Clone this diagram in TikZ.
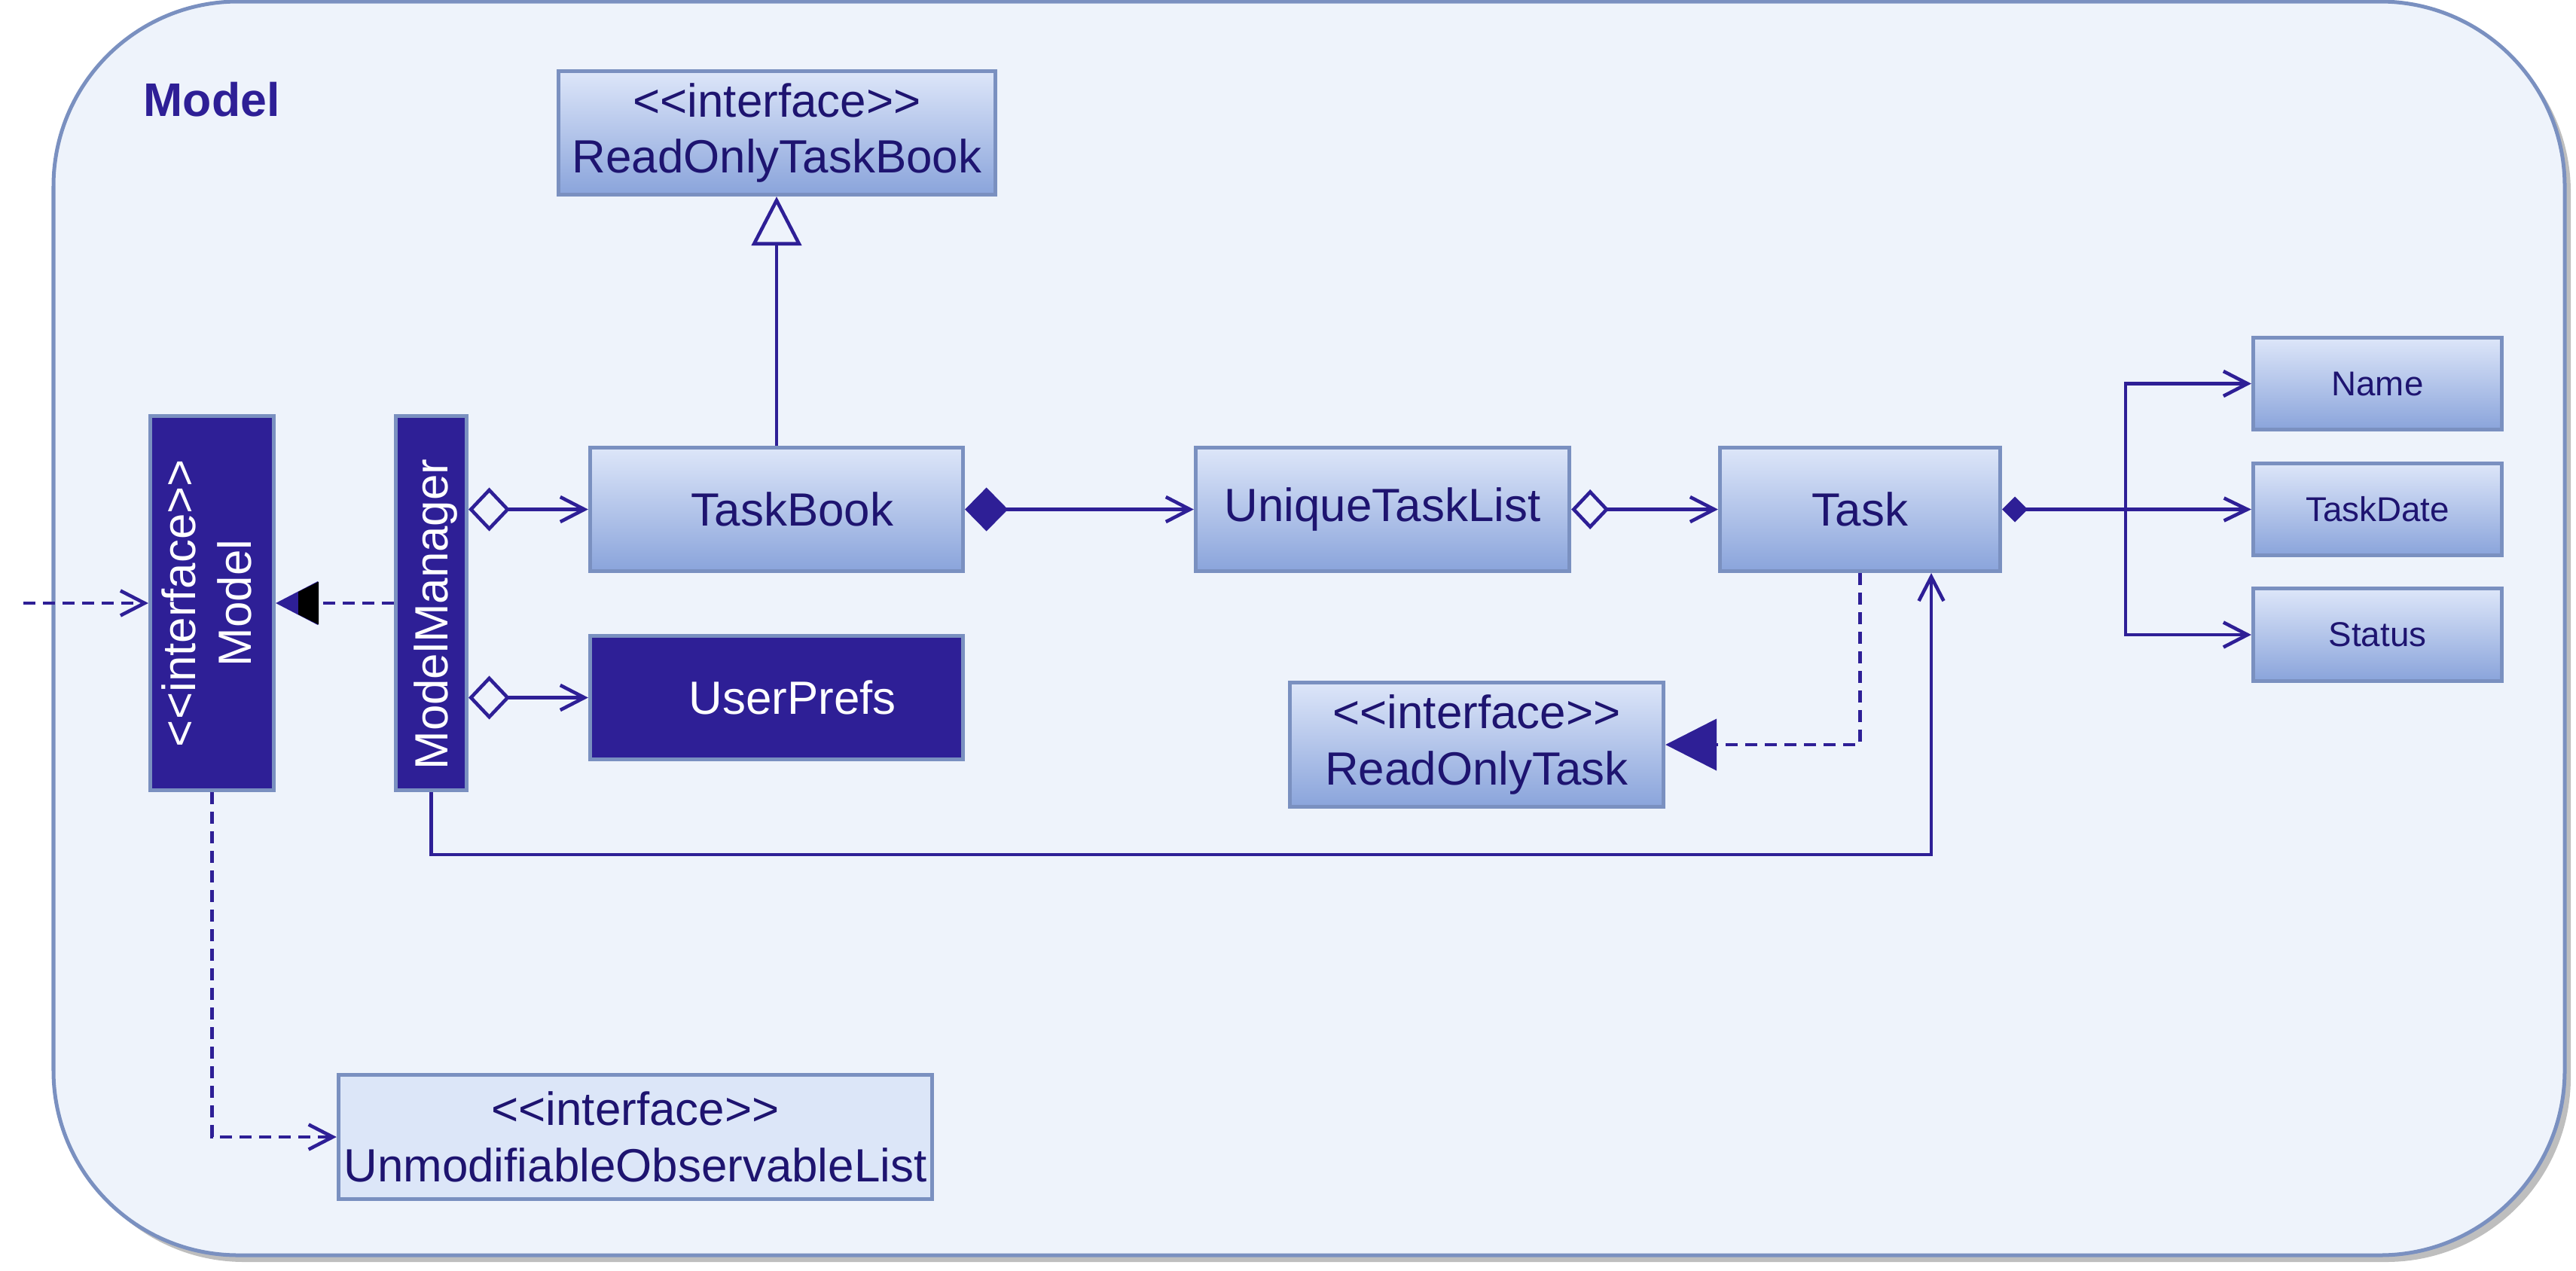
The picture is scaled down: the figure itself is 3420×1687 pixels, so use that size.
\documentclass[tikz,border=0pt]{standalone}
\usepackage{fontspec}
\newfontfamily\libsans{Liberation Sans}
\usetikzlibrary{arrows.meta}
\definecolor{ind}{HTML}{2E1F96}
\definecolor{txt}{HTML}{1E1470}
\definecolor{bord}{HTML}{7A90C0}
\definecolor{bgc}{HTML}{EEF3FB}
\definecolor{gtop}{HTML}{DDE6F9}
\definecolor{gbot}{HTML}{8AA4DB}
\definecolor{flat}{HTML}{DCE6F8}
\definecolor{shad}{HTML}{BEBEBE}
\newcommand\fsA{\fontsize{17.6pt}{21.3pt}\selectfont}
\newcommand\fsB{\fontsize{13pt}{16pt}\selectfont}
\tikzset{
  cls/.style={draw=bord, line width=0.05cm, top color=gtop, bottom color=gbot, text=txt, inner sep=0pt, align=center},
  flatcls/.style={draw=bord, line width=0.05cm, fill=flat, text=txt, inner sep=0pt, align=center},
  dark/.style={draw=bord, line width=0.05cm, fill=ind, text=white, inner sep=0pt, align=center},
  conn/.style={draw=ind, line width=0.046cm},
  dsh/.style={conn, dash pattern=on 0.16cm off 0.10cm},
  barbE/.style={-{Straight Barb[length=0.32cm,width=0.33cm]}},
  genE/.style={-{Triangle[length=0.65cm,width=0.66cm,fill=bgc]}},
  aggrA/.style={{Diamond[length=0.55cm,width=0.58cm,fill=bgc]}-{Straight Barb[length=0.32cm,width=0.33cm]}},
  aggrB/.style={{Diamond[length=0.50cm,width=0.53cm,fill=bgc]}-{Straight Barb[length=0.32cm,width=0.33cm]}},
  compA/.style={{Diamond[length=0.57cm,width=0.58cm]}-{Straight Barb[length=0.32cm,width=0.33cm]}},
  compB/.style={{Diamond[length=0.34cm,width=0.34cm]}-{Straight Barb[length=0.31cm,width=0.30cm]}},
  realA/.style={-{Triangle[length=0.68cm,width=0.68cm]}},
  realB/.style={-{Triangle[length=0.56cm,width=0.57cm]}}
}
\begin{document}
\begin{tikzpicture}[x=0.01cm,y=-0.01cm, every node/.style={font=\libsans\fsA}]
\useasboundingbox (0,0) rectangle (3420,1687);
% frame
\fill[shad, rounded corners=2.45cm] (79,10) rectangle (3413,1676);
\draw[bord, fill=bgc, line width=0.05cm, rounded corners=2.45cm] (71,2) rectangle (3405,1667);
\node[anchor=base west, inner sep=0pt, text=ind, font=\libsans\fontsize{17.8pt}{21pt}\selectfont\bfseries] (title) at (190,154) {Model};

% classes
\node[cls, minimum width=5.80cm, minimum height=1.64cm] (rotb) at (1031.5,176.5) {<<interface>>\\ReadOnlyTaskBook};
\node[cls, minimum width=4.95cm, minimum height=1.64cm] (tb) at (1031,676.5) {\hspace*{0.42cm}TaskBook};
\node[dark, minimum width=4.95cm, minimum height=1.64cm] (up) at (1031,926.5) {\hspace*{0.42cm}UserPrefs};
\node[cls, minimum width=4.96cm, minimum height=1.64cm] (utl) at (1835.5,676.5) {UniqueTaskList};
\node[cls, minimum width=3.72cm, minimum height=1.64cm] (task) at (2469.5,676.5) {Task};
\node[cls, minimum width=4.96cm, minimum height=1.65cm] (rot) at (1960.5,989) {<<interface>>\\ReadOnlyTask};
\node[cls, minimum width=3.30cm, minimum height=1.22cm, font=\libsans\fsB] (name) at (3156.5,509.5) {Name};
\node[cls, minimum width=3.30cm, minimum height=1.22cm, font=\libsans\fsB] (tdate) at (3156.5,676.5) {TaskDate};
\node[cls, minimum width=3.30cm, minimum height=1.22cm, font=\libsans\fsB] (status) at (3156.5,843) {Status};
\node[dark, minimum width=1.64cm, minimum height=4.97cm] (model) at (281.5,801) {\rotatebox{90}{\begin{tabular}{@{}c@{}}<<interface>>\\Model\end{tabular}}};
\node[dark, minimum width=0.94cm, minimum height=4.97cm] (mm) at (572.5,801) {\rotatebox{90}{\raisebox{0pt}[\height][0pt]{ModelManager\hspace*{0.3cm}}}};
\node[flatcls, minimum width=7.88cm, minimum height=1.65cm] (uol) at (843.5,1510) {<<interface>>\\UnmodifiableObservableList};

% connectors
\draw[conn, genE] (tb.north) -- (tb.north |- rotb.south);
\draw[conn, aggrA] (tb.west -| mm.east) -- (tb.west);
\draw[conn, aggrA] (up.west -| mm.east) -- (up.west);
\draw[conn, compA] (tb.east) -- (utl.west);
\draw[conn, aggrB] (utl.east) -- (task.west);
\coordinate (fork) at (2822,676.5);
\draw[conn, compB] (task.east) -- (tdate.west);
\draw[conn, barbE] (fork) |- (name.west);
\draw[conn, barbE] (fork) |- (status.west);
\draw[dsh, realA] (task.south) |- (rot.east);
\draw[dsh, realB] (mm.west) -- (model.east);
\fill[black] (396,786) -- (423,772.5) -- (423,829.5) -- (396,816) -- cycle;
\coordinate (ext) at (31,801);
\draw[dsh, barbE] (ext) -- (model.west);
\draw[dsh, barbE] (model.south) |- (uol.west);
\coordinate (tx) at (2564,0);
\draw[conn, barbE] (mm.south) -- ++(0,83) -| (task.south -| tx);
\end{tikzpicture}
\end{document}
